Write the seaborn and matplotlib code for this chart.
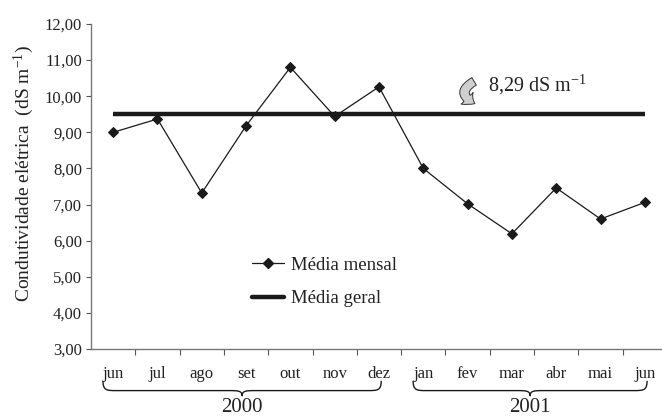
import numpy as np
import pandas as pd
import matplotlib.pyplot as plt
import seaborn as sns
import matplotlib.transforms as mtransforms
from matplotlib.path import Path
from matplotlib.patches import PathPatch, FancyArrowPatch
from matplotlib.lines import Line2D

# dados
meses = ["jun", "jul", "ago", "set", "out", "nov", "dez",
         "jan", "fev", "mar", "abr", "mai", "jun"]
media_mensal = [9.00, 9.37, 7.32, 9.18, 10.80, 9.44, 10.26,
                8.00, 7.02, 6.19, 7.46, 6.60, 7.06]
media_geral = 9.50
anos = ["2000", "2001"]
ano_inicio = [0, 7]
ano_fim = [6, 12]
y_ticks = [3, 4, 5, 6, 7, 8, 9, 10, 11, 12]

sns.set_theme(style="white")
plt.rcParams['font.family'] = ['Liberation Serif', 'DejaVu Serif']
plt.rcParams['mathtext.fontset'] = 'custom'
plt.rcParams['mathtext.rm'] = 'Liberation Serif'
plt.rcParams['mathtext.it'] = 'Liberation Serif:italic'

txt = "#222222"
cor = "#1a1a1a"

df = pd.DataFrame({"pos": np.arange(len(meses)), "valor": media_mensal})

fig = plt.figure(figsize=(6.62, 4.18), dpi=100)
ax = fig.add_axes([91 / 662, 69 / 418, 576 / 662, 325 / 418])

sns.lineplot(data=df, x="pos", y="valor", ax=ax, color=cor, lw=0.9,
             marker="D", markersize=5.5, markeredgecolor=cor, markerfacecolor=cor)
ax.hlines(media_geral, df["pos"].iloc[0], df["pos"].iloc[-1], color=cor, lw=3.2)

ax.set_xlim(-0.5, len(meses) - 0.5)
ax.set_ylim(y_ticks[0], y_ticks[-1])
ax.set_yticks(y_ticks)
ax.set_yticklabels([f"{v:.2f}".replace(".", ",") for v in y_ticks], fontsize=12, color=txt)
ax.set_xticks(df["pos"])
ax.set_xticklabels(meses, fontsize=12, color=txt)
ax.set_xticks(np.arange(len(meses)) + 0.5, minor=True)
ax.tick_params(axis="x", which="major", length=0, pad=12)
ax.tick_params(axis="x", which="minor", length=4.5, width=0.8, color="#555555", direction="out", bottom=True)
ax.tick_params(axis="y", length=3.5, width=0.8, color="#555555", direction="out", left=True, pad=3)
ax.set_xlabel("")
ax.set_ylabel("Condutividade elétrica  (dS m$^{\\mathrm{-1}}$)", fontsize=14, color=txt, labelpad=6)
ax.yaxis.label.set_y(0.54)

for s in ["top", "right"]:
    ax.spines[s].set_visible(False)
for s in ["left", "bottom"]:
    ax.spines[s].set_color("#777777")
    ax.spines[s].set_linewidth(1.0)

# chaves dos anos
trans = mtransforms.blended_transform_factory(ax.transData, ax.transAxes)
y_top, y_mid, y_tip = -0.098, -0.128, -0.145
q = 0.3
for ano, i0, i1 in zip(anos, ano_inicio, ano_fim):
    x0, x1 = i0 - 0.23, i1 + 0.05
    xm = (x0 + x1) / 2
    verts = [(x0, y_top), (x0, y_mid), (x0 + q * 0.3, y_mid), (x0 + q, y_mid),
             (xm - q, y_mid),
             (xm - q * 0.3, y_mid), (xm, y_mid), (xm, y_tip),
             (xm, y_mid), (xm + q * 0.3, y_mid), (xm + q, y_mid),
             (x1 - q, y_mid),
             (x1 - q * 0.3, y_mid), (x1, y_mid), (x1, y_top)]
    codes = [Path.MOVETO, Path.CURVE4, Path.CURVE4, Path.CURVE4,
             Path.LINETO,
             Path.CURVE4, Path.CURVE4, Path.CURVE4,
             Path.CURVE4, Path.CURVE4, Path.CURVE4,
             Path.LINETO,
             Path.CURVE4, Path.CURVE4, Path.CURVE4]
    ax.add_patch(PathPatch(Path(verts, codes), transform=trans, fill=False,
                           edgecolor=cor, lw=1.0, clip_on=False))
    ax.text(xm, -0.18, ano, transform=trans, ha="center", va="center",
            fontsize=15, color=txt, clip_on=False)

# anotação da média geral
seta = FancyArrowPatch((8.2, 10.45), (8.22, 9.76), connectionstyle="arc3,rad=1.0",
                       arrowstyle="simple,head_length=0.45,head_width=0.8,tail_width=0.42",
                       mutation_scale=15, facecolor="#cfcfcf", edgecolor="#333333", lw=0.7)
ax.add_patch(seta)
ax.text(8.47, 10.13, "8,29 dS m$^{\\mathrm{-1}}$", fontsize=14.5, color=txt, ha="left", va="baseline")

# legenda
handles = [Line2D([], [], color=cor, lw=0.9, marker="D", markersize=5.5),
           Line2D([], [], color=cor, lw=3.2)]
fig.legend(handles, ["Média mensal", "Média geral"], loc="center left",
           bbox_to_anchor=(252 / 662, 1 - 282 / 418), frameon=False, fontsize=13.5,
           handlelength=1.7, handletextpad=0.4, labelspacing=0.85,
           borderpad=0, borderaxespad=0, labelcolor=txt)

fig.savefig("out.png", dpi=100)
